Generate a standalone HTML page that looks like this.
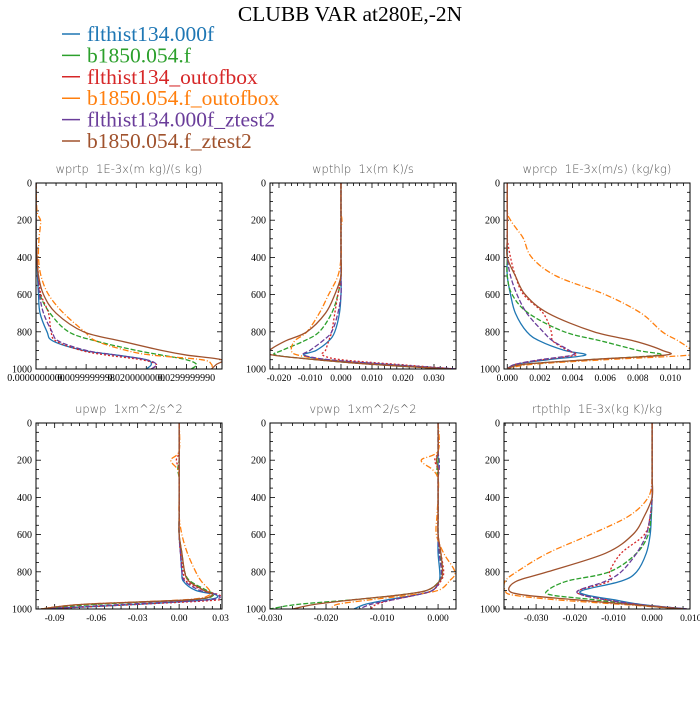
<!DOCTYPE html>
<html><head><meta charset="utf-8"><style>
body{margin:0;background:#fff}
svg text{font-family:"Liberation Serif",serif}
</style></head><body>
<svg id="chart" width="700" height="700" xmlns="http://www.w3.org/2000/svg">
<text x="350" y="21" text-anchor="middle" font-size="21.5">CLUBB VAR at280E,-2N</text>
<g id="legend"></g>
<g id="panels"></g>
</svg>
<script>
const levels=[0,150,200,250,300,400,500,600,700,800,850,900,925,950,975,1000];
const seriesNames=["flthist134.000f","b1850.054.f","flthist134_outofbox","b1850.054.f_outofbox","flthist134.000f_ztest2","b1850.054.f_ztest2"];
const seriesColors=["#1f77b4","#2ca02c","#d62728","#ff7f0e","#6a3d9a","#a0522d"];
const seriesDash=["","5,2","2,2","6,2,1,2","5,2",""];
const panelTitles=["wprtp  1E-3x(m kg)/(s kg)","wpthlp  1x(m K)/s","wprcp  1E-3x(m/s) (kg/kg)","upwp  1xm^2/s^2","vpwp  1xm^2/s^2","rtpthlp  1E-3x(kg K)/kg"];
const xDomains=[[0,0.0371],[-0.0229,0.0371],[-0.0002,0.0112],[-0.1035,0.031],[-0.030,0.0032],[-0.0383,0.0098]];
const xTicks=[[0,0.01,0.02,0.03],[-0.02,-0.01,0,0.01,0.02,0.03],[0,0.002,0.004,0.006,0.008,0.01],[-0.09,-0.06,-0.03,0,0.03],[-0.03,-0.02,-0.01,0],[-0.03,-0.02,-0.01,0,0.01]];
const xTickLabels=[["0.0000000000","0.0099999998","0.0200000000","0.0299999990"],["-0.020","-0.010","0.000","0.010","0.020","0.030"],["0.000","0.002","0.004","0.006","0.008","0.010"],["-0.09","-0.06","-0.03","0.00","0.03"],["-0.030","-0.020","-0.010","0.000"],["-0.030","-0.020","-0.010","0.000","0.010"]];
const yTicks=[0,200,400,600,800,1000];
// order: blue, green, red, orange, purple, brown
const wprtp=[
[0,0,0,0,0,0.0002,0.0003,0.0005,0.0008,0.0022,0.0034,0.0094,0.016,0.022,0.023,0.022],
[0,0,0,0,0,0.0002,0.0004,0.0008,0.0028,0.0065,0.012,0.020,0.025,0.030,0.032,0.031],
[0,0,0,0,0,0.0002,0.0005,0.001,0.0025,0.003,0.004,0.009,0.014,0.021,0.024,0.023],
[0,0.0002,0.0009,0.0008,0.0006,0.0005,0.001,0.0025,0.0055,0.0097,0.012,0.018,0.023,0.033,0.035,0.035],
[0,0,0,0,0,0.0002,0.0004,0.0007,0.0015,0.0032,0.0045,0.010,0.016,0.022,0.024,0.023],
[0,0,0,0,0,0.0002,0.0005,0.0015,0.004,0.0095,0.017,0.025,0.030,0.037,0.036,0.035]];
const wpthlp=[
[0,0,0,0,0,0,0,0,-0.0005,-0.002,-0.004,-0.008,-0.012,-0.005,0.015,0.037],
[0,0,0,0,0,0,0,-0.001,-0.003,-0.007,-0.012,-0.019,-0.021,-0.008,0.01,0.035],
[0,0,0,0,0,0,0,-0.001,-0.002,-0.003,-0.004,-0.005,-0.006,0,0.018,0.037],
[0,0,0.0003,0,0,0,-0.001,-0.004,-0.007,-0.011,-0.015,-0.016,-0.014,-0.005,0.012,0.035],
[0,0,0,0,0,0,0,0,-0.001,-0.003,-0.006,-0.010,-0.012,-0.004,0.015,0.037],
[0,0,0,0,0,0,0,-0.002,-0.005,-0.011,-0.018,-0.023,-0.022,-0.008,0.01,0.035]];
const wprcp=[
[0,0,0,0,0,0,0,0.0002,0.0005,0.0012,0.002,0.0035,0.0048,0.0025,0.0005,0],
[0,0,0,0,0,0,0,0.0003,0.0013,0.0035,0.0058,0.008,0.0093,0.005,0.001,0],
[0,0,0,0,0,0.0002,0.0005,0.001,0.0022,0.0027,0.0028,0.0037,0.0042,0.0022,0.0005,0],
[0,0,0.0002,0.0006,0.001,0.0015,0.003,0.006,0.0082,0.0095,0.0105,0.0113,0.0112,0.006,0.0015,0],
[0,0,0,0,0,0,0.0002,0.0006,0.0012,0.0022,0.0028,0.0038,0.004,0.002,0.0005,0],
[0,0,0,0,0,0,0.0005,0.0011,0.0025,0.0053,0.0078,0.0095,0.0097,0.005,0.001,0]];
const upwp=[
[0,0,0,0,0,0,0,0,0.001,0.002,0.003,0.012,0.027,0.02,-0.03,-0.1],
[0,0,0,-0.001,0,0,0,0,0.002,0.004,0.008,0.02,0.025,0.01,-0.06,-0.1],
[0,0,-0.002,0,0,0,0,0,0.001,0.003,0.005,0.018,0.029,0.03,-0.03,-0.1],
[0,0,-0.006,-0.001,0,0,0,0.002,0.006,0.012,0.016,0.022,0.022,0.005,-0.07,-0.1],
[0,0,0,0,0,0,0,0,0.001,0.002,0.004,0.015,0.028,0.022,-0.04,-0.1],
[0,0,0,0,0,0,0,0,0.002,0.004,0.007,0.018,0.024,0.008,-0.07,-0.1]];
const vpwp=[
[0,0,0,0,0,0,0,0,0,0.0003,0.0002,-0.001,-0.004,-0.009,-0.013,-0.015],
[0,0,0,-0.0002,0,0,0,0,0.0003,0.0006,0.0002,-0.002,-0.007,-0.015,-0.025,-0.030],
[0,0,-0.0006,0,0,0,0,0,0.0005,0.001,0.0005,-0.001,-0.004,-0.008,-0.011,-0.012],
[0,0,-0.003,-0.001,0,0,-0.0002,-0.0003,0.001,0.003,0.002,0,-0.005,-0.012,-0.018,-0.019],
[0,0,0.0002,0.0002,0,0,0,0,0.0002,0.0006,0.0003,-0.001,-0.004,-0.008,-0.012,-0.014],
[0,0,-0.0003,0,0,0,0,0,0.0005,0.0008,0.0003,-0.002,-0.007,-0.015,-0.022,-0.026]];
const rtpthlp=[
[0,0,0,0,0,0,-0.0002,-0.0005,-0.0015,-0.004,-0.008,-0.018,-0.017,-0.01,-0.003,0.009],
[0,0,0,0,0,0,-0.0003,-0.001,-0.004,-0.011,-0.022,-0.027,-0.026,-0.015,-0.005,0.008],
[0,0,0,0,0,0,-0.0005,-0.002,-0.008,-0.011,-0.011,-0.019,-0.018,-0.012,-0.004,0.009],
[0,0,0,0,0,-0.001,-0.006,-0.016,-0.027,-0.035,-0.038,-0.038,-0.036,-0.025,-0.008,0.008],
[0,0,0,0,0,0,-0.0005,-0.0015,-0.004,-0.008,-0.012,-0.019,-0.018,-0.012,-0.004,0.009],
[0,0,0,0,0,0,-0.002,-0.005,-0.012,-0.027,-0.035,-0.037,-0.033,-0.02,-0.006,0.008]];
const panelData=[wprtp,wpthlp,wprcp,upwp,vpwp,rtpthlp];

const NS="http://www.w3.org/2000/svg";
function mk(tag,attrs,parent){const e=document.createElementNS(NS,tag);for(const k in attrs)e.setAttribute(k,attrs[k]);parent.appendChild(e);return e;}
const legend=document.getElementById('legend');
seriesNames.forEach((n,i)=>{
  const y=34+i*21.4;
  const l=mk('line',{x1:62,x2:80,y1:y,y2:y,stroke:seriesColors[i],'stroke-width':1.5},legend);
  
  
  const t=mk('text',{x:87,y:y+7,'font-size':21.5,fill:seriesColors[i]},legend);
  t.textContent=n;
  
  
});
const lefts=[36,270,504], tops=[183,423], W=186, H=186;
const panels=document.getElementById('panels');
function smoothPath(pts){
  let d='M'+pts[0][0].toFixed(2)+','+pts[0][1].toFixed(2);
  for(let i=0;i<pts.length-1;i++){
    const p0=pts[Math.max(0,i-1)],p1=pts[i],p2=pts[i+1],p3=pts[Math.min(pts.length-1,i+2)];
    const c1=[p1[0]+(p2[0]-p0[0])/6,p1[1]+(p2[1]-p0[1])/6];
    const c2=[p2[0]-(p3[0]-p1[0])/6,p2[1]-(p3[1]-p1[1])/6];
    d+=' C'+c1.map(v=>v.toFixed(2))+' '+c2.map(v=>v.toFixed(2))+' '+p2.map(v=>v.toFixed(2));
  }
  return d;
}
for(let p=0;p<6;p++){
  const L=lefts[p%3],T=tops[Math.floor(p/3)];
  const [x0,x1]=xDomains[p];
  const xs=v=>L+(v-x0)/(x1-x0)*W;
  const ys=v=>T+v/1000*H;
  const g=mk('g',{},panels);
  
  
  const cid='clip'+p;
  const cp=mk('clipPath',{id:cid},g);mk('rect',{x:L,y:T,width:W,height:H},cp);
  const tt=mk('text',{x:L+W/2,y:T-10,'text-anchor':'middle','font-size':11.5,fill:'#555',style:'font-family:"DejaVu Sans",sans-serif;font-weight:200;white-space:pre'},g);
  tt.textContent=panelTitles[p];
  
  
  for(let v=0;v<=1000;v+=50){
    const y=ys(v),len=(v%200===0)?5:3;
    mk('line',{x1:L,x2:L+len,y1:y,y2:y,stroke:'#000','stroke-width':0.8},g);
    mk('line',{x1:L+W,x2:L+W-len,y1:y,y2:y,stroke:'#000','stroke-width':0.8},g);
  }
  yTicks.forEach(v=>{const t=mk('text',{x:L-4,y:ys(v)+3.5,'text-anchor':'end','font-size':10},g);t.textContent=v;
    });
  const xt=xTicks[p],step=(xt[1]-xt[0])/5;
  for(let v=xt[0]-step*20;v<=x1+1e-12;v+=step){
    if(v<x0-1e-12)continue;
    const x=xs(v);
    const major=xt.some(t=>Math.abs(t-v)<step/10);
    const len=major?5:3;
    mk('line',{x1:x,x2:x,y1:T+H,y2:T+H-len,stroke:'#000','stroke-width':0.8},g);
    mk('line',{x1:x,x2:x,y1:T,y2:T+len,stroke:'#000','stroke-width':0.8},g);
  }
  xt.forEach((v,i)=>{const t=mk('text',{x:xs(v),y:T+H+12,'text-anchor':'middle','font-size':p===0?10:9.5},g);t.textContent=xTickLabels[p][i];
    });
  const sg=mk('g',{'clip-path':'url(#'+cid+')'},g);
  panelData[p].forEach((vals,si)=>{
    const pts=vals.map((v,k)=>[xs(v),ys(levels[k])]);
    const path=mk('path',{d:smoothPath(pts),fill:'none',stroke:seriesColors[si],'stroke-width':1.3,'stroke-dasharray':seriesDash[si]||'none'},sg);
    
    
  });
  const fr=mk('rect',{x:L,y:T,width:W,height:H,fill:'none',stroke:'#000','stroke-width':1},g);
  
  
}
</script>
</body></html>
